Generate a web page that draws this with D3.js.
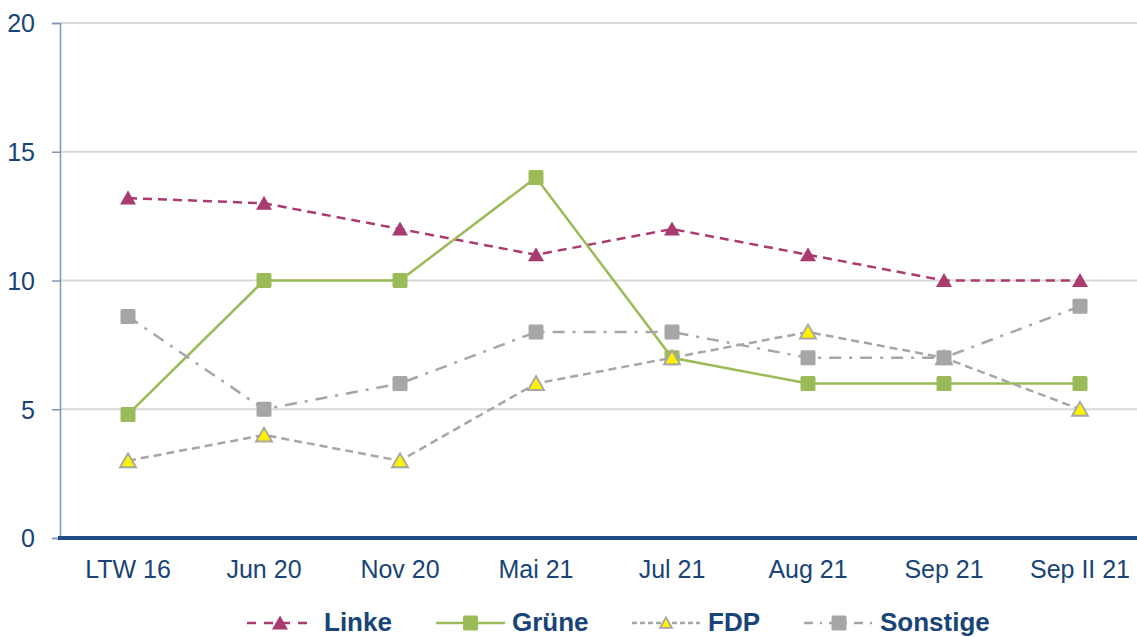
<!DOCTYPE html>
<html>
<head>
<meta charset="utf-8">
<script src="https://cdn.jsdelivr.net/npm/d3@7"></script>
<style>
  body { margin: 0; background: #fff; }
  svg { display: block; font-family: "Liberation Sans", Arial, sans-serif; }
</style>
</head>
<body>
<div id="chart"></div>
<script>
// categories and series
const categories = ["LTW 16", "Jun 20", "Nov 20", "Mai 21", "Jul 21", "Aug 21", "Sep 21", "Sep II 21"];
const linke    = [13.2, 13, 12, 11, 12, 11, 10, 10];
const gruene   = [4.8, 10, 10, 14, 7, 6, 6, 6];
const fdp      = [3, 4, 3, 6, 7, 8, 7, 5];
const sonstige = [8.6, 5, 6, 8, 8, 7, 7, 9];
const yTicks = [0, 5, 10, 15, 20];

const W = 1137, H = 637;
const plotLeft = 60, plotTop = 23, plotBottom = 538;
const textBlue = "#194476";

const svg = d3.select("#chart").append("svg")
    .attr("width", W).attr("height", H);

const x = d3.scaleBand().domain(categories).range([plotLeft, plotLeft + 136 * categories.length]);
const y = d3.scaleLinear().domain([0, 20]).range([plotBottom, plotTop]);

// gridlines
svg.append("g").selectAll("line")
    .data(yTicks.filter(d => d > 0))
    .enter().append("line")
    .attr("x1", plotLeft).attr("x2", W)
    .attr("y1", d => y(d)).attr("y2", d => y(d))
    .attr("stroke", "#D9D9D9").attr("stroke-width", 2);

// y axis
const yAxis = svg.append("g").attr("transform", "translate(" + plotLeft + ",0)")
    .call(d3.axisLeft(y).tickValues(yTicks).tickSize(8).tickPadding(17));
yAxis.select(".domain").attr("stroke", "#7F96B2").attr("stroke-width", 1.5);
yAxis.selectAll(".tick line").attr("stroke", "#7F96B2").attr("stroke-width", 1.5);
yAxis.selectAll(".tick text").attr("fill", textBlue).style("font-size", "25px").attr("dy", "0.35em");

// x axis
svg.append("line")
    .attr("x1", plotLeft - 2).attr("x2", W)
    .attr("y1", plotBottom).attr("y2", plotBottom)
    .attr("stroke", "#1F4E86").attr("stroke-width", 4);
svg.append("g").selectAll("text")
    .data(categories)
    .enter().append("text")
    .attr("x", d => x(d) + x.bandwidth() / 2)
    .attr("y", plotBottom + 40)
    .attr("text-anchor", "middle")
    .attr("fill", textBlue)
    .style("font-size", "25px")
    .text(d => d);

const series = [
    { name: "Linke", values: linke, color: "#A93B6F", dash: "9,6", width: 2.5, marker: "triangle", fill: "#A93B6F", stroke: "none" },
    { name: "Grüne", values: gruene, color: "#9BBB59", dash: null, width: 2.5, marker: "square", fill: "#9BBB59", stroke: "none" },
    { name: "FDP", values: fdp, color: "#A6A6A6", dash: "8,5", width: 2.5, marker: "triangle", fill: "#FFF200", stroke: "#A6A6A6" },
    { name: "Sonstige", values: sonstige, color: "#A6A6A6", dash: "12,8,3,8", width: 2.5, marker: "square", fill: "#A6A6A6", stroke: "none" }
];

const line = d3.line()
    .x((d, i) => x(categories[i]) + x.bandwidth() / 2)
    .y(d => y(d));

function marker(g, type, fill, stroke, k) {
    k = k || 1;
    if (type === "triangle") {
        g.append("path").attr("d", "M0," + (-7.5 * k) + " L" + (8 * k) + "," + (6.5 * k) + " L" + (-8 * k) + "," + (6.5 * k) + " Z")
            .attr("fill", fill).attr("stroke", stroke).attr("stroke-width", stroke === "none" ? 0 : 1.8);
    } else {
        g.append("rect").attr("x", -7.5).attr("y", -7.5).attr("width", 15).attr("height", 15)
            .attr("rx", 1.5).attr("fill", fill);
    }
}

// series order: later ones sit on top (Sonstige over FDP over Grüne)
series.forEach(s => {
    svg.append("path")
        .datum(s.values)
        .attr("d", line)
        .attr("fill", "none")
        .attr("stroke", s.color)
        .attr("stroke-width", s.width)
        .attr("stroke-dasharray", s.dash);
    s.values.forEach((v, i) => {
        const g = svg.append("g")
            .attr("transform", "translate(" + (x(categories[i]) + x.bandwidth() / 2) + "," + y(v) + ")");
        marker(g, s.marker, s.fill, s.stroke);
    });
});

// legend
const legendX = [247, 436, 632, 804];
const legendW = [66, 69, 68, 70];
const legendText = [324, 512, 708, 880];
const legendDash = ["9,8", null, "5,3", "9,7,2,7"];
const legendScale = [1, 1, 0.75, 1];
const legendY = 623;
series.forEach((s, i) => {
    const g = svg.append("g");
    g.append("line")
        .attr("x1", legendX[i]).attr("x2", legendX[i] + legendW[i])
        .attr("y1", legendY).attr("y2", legendY)
        .attr("stroke", s.color).attr("stroke-width", s.width)
        .attr("stroke-dasharray", legendDash[i]);
    const m = g.append("g").attr("transform", "translate(" + (legendX[i] + legendW[i] / 2) + "," + legendY + ")");
    marker(m, s.marker, s.fill, s.stroke, legendScale[i]);
    g.append("text")
        .attr("x", legendText[i])
        .attr("y", 631)
        .attr("fill", textBlue)
        .style("font-size", "26px")
        .style("font-weight", "bold")
        .text(s.name);
});
</script>
</body>
</html>
